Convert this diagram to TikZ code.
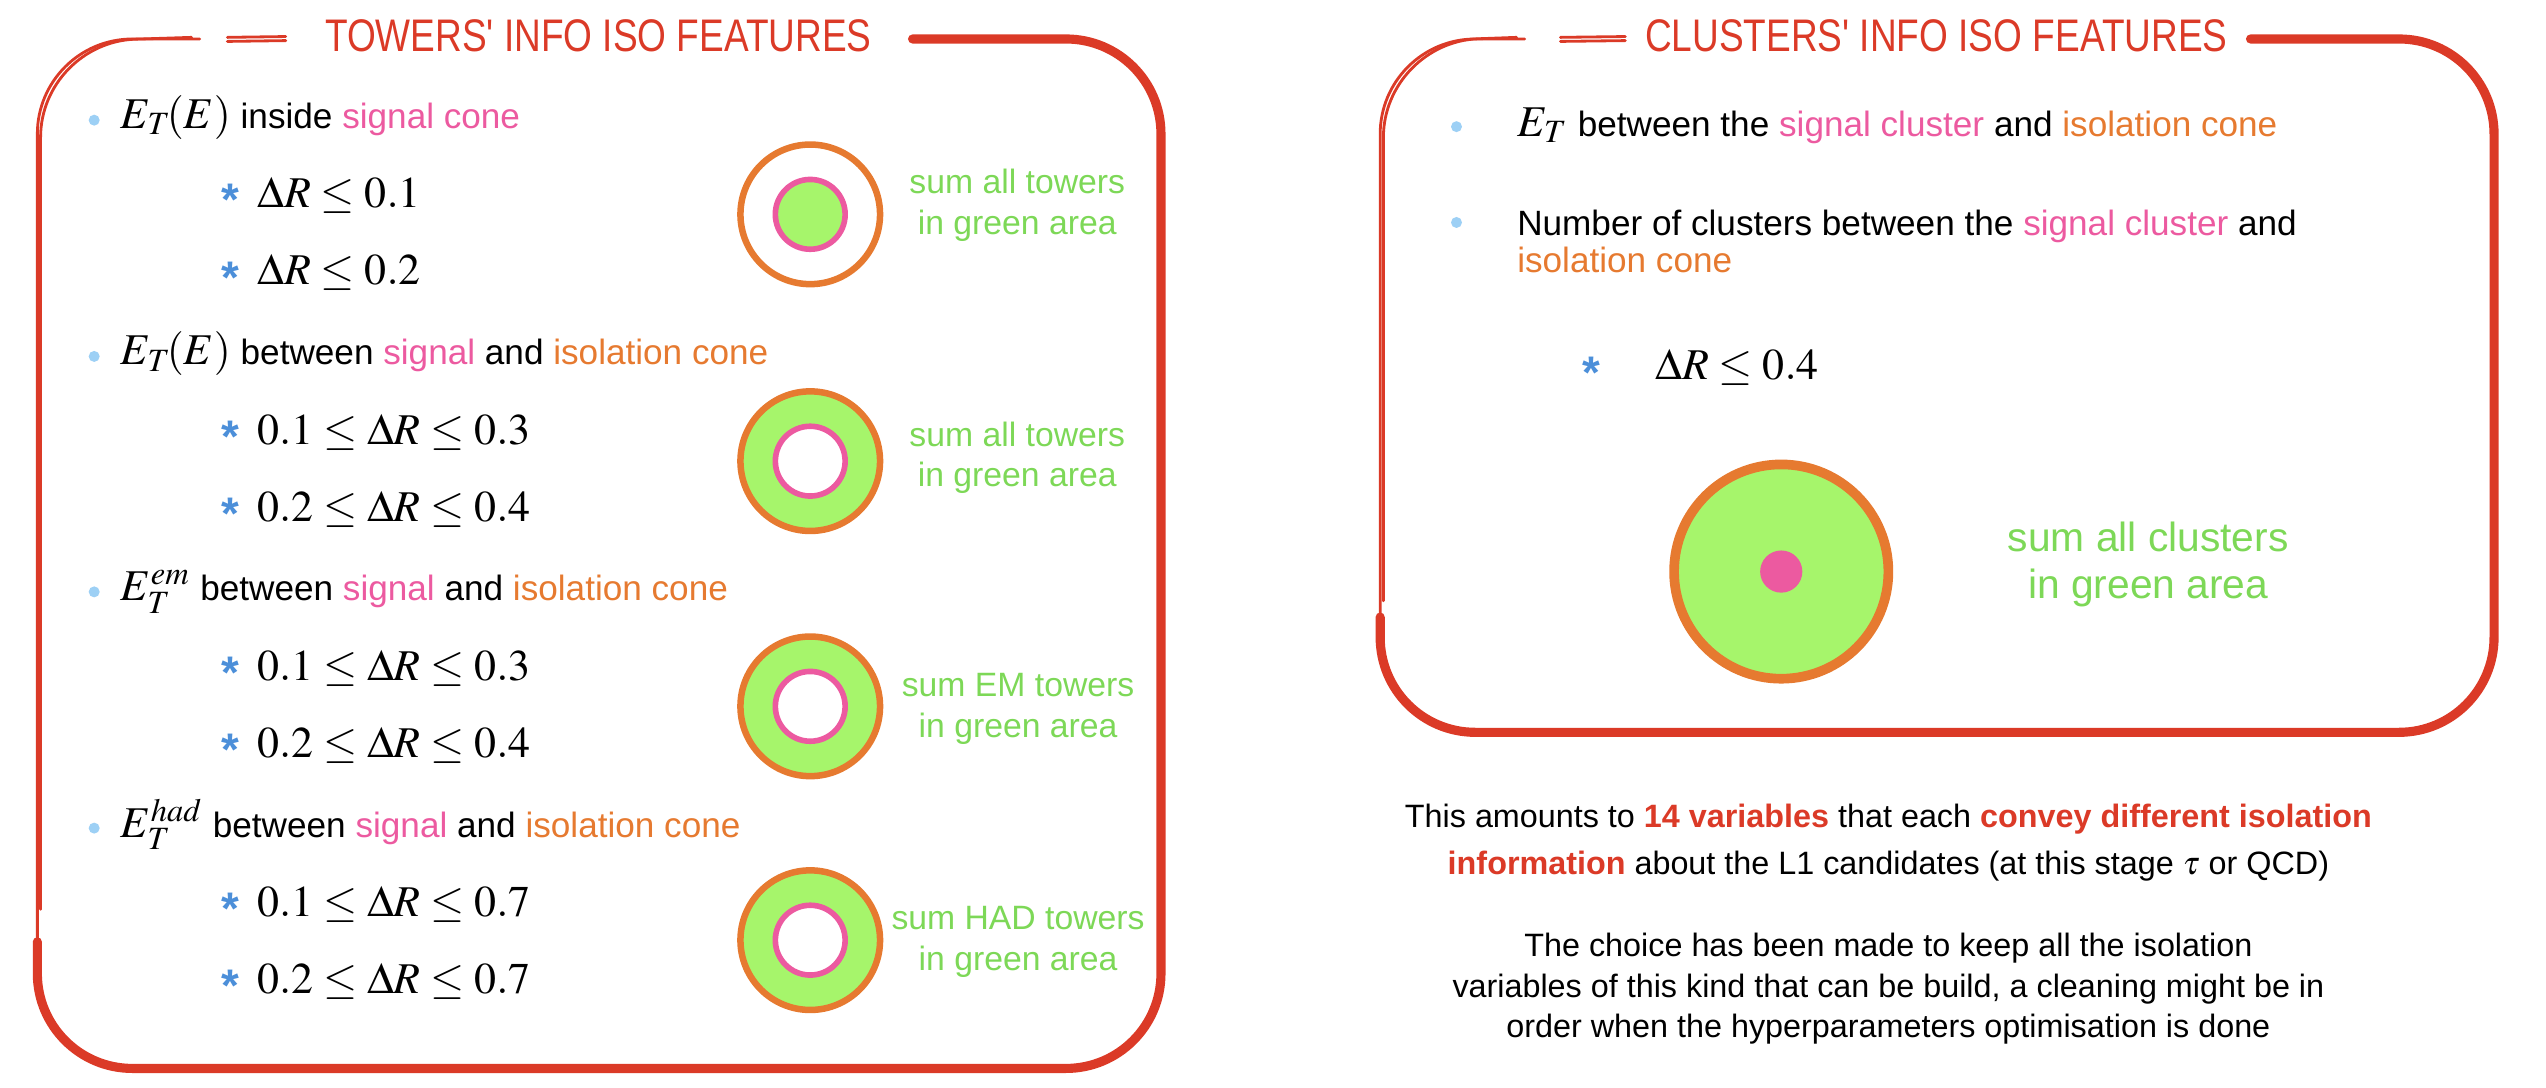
\documentclass[tikz,border=0pt]{standalone}
\usepackage{mathptmx}
\usepackage[no-math]{fontspec}
\setmainfont{Liberation Sans}
\newfontfamily\titlefont[FakeStretch=0.81]{Liberation Sans}
\usepackage{xcolor}
\definecolor{boxred}{HTML}{DB3A27}
\definecolor{sigpink}{HTML}{EC5AA0}
\definecolor{isoorange}{HTML}{E67A30}
\definecolor{areagreen}{HTML}{A6F56B}
\definecolor{textgreen}{HTML}{7DD857}
\definecolor{dotblue}{HTML}{9DD0F5}
\definecolor{starblue}{HTML}{4C8FD9}
\newcommand{\mth}[1]{{\fontsize{12.5}{15}\selectfont$#1$}}
\tikzset{boxthick/.style={draw=boxred,line width=2.6pt,rounded corners=9.5mm,line cap=round},boxthin/.style={draw=boxred,line width=.8pt,rounded corners=9.5mm,line cap=round},boxtitle/.style={text=boxred,inner sep=0pt,font=\titlefont\fontsize{13}{13}\selectfont},itemdot/.style={circle,fill=dotblue,inner sep=0pt,minimum size=1.1mm},itemtext/.style={anchor=base west,inner sep=0pt,font=\fontsize{10}{10.4}\selectfont},subtext/.style={anchor=base west,inner sep=0pt,font=\fontsize{12.5}{15}\selectfont},staritem/.style={anchor=base,inner sep=0pt,text=starblue,font=\fontsize{13}{13}\selectfont\bfseries},outerring/.style={circle,draw=isoorange,line width=1.85pt,inner sep=0pt,minimum size=13.96mm},innerring/.style={circle,draw=sigpink,line width=1.6pt,inner sep=0pt,minimum size=6.98mm},arealabel/.style={text=textgreen,align=center,inner sep=0pt,font=\fontsize{9.6}{11.5}\selectfont},note/.style={align=center,inner sep=0pt,anchor=north}}

\begin{document}
\begin{tikzpicture}[x=0.16237mm,y=-0.16237mm]
\useasboundingbox (0,0) rectangle (1568,670);
% towers box
\draw[boxthick] (562,24) -- (715,24) -- (715,658) -- (23,658) -- (23,580);
\draw[boxthin] (23,590) -- (23,24) -- (123,24);
\draw[boxthin] (25,560) -- (25,26) -- (118,23);
\draw[boxthin] (140,23) -- (176,22.5);\draw[boxthin] (140,25.5) -- (176,25);
\node[boxtitle] (towtitle) at (368.5,22) {TOWERS' INFO ISO FEATURES};
\node[itemdot] (d1) at (58,74) {};
\node[itemtext] (i1) at (74,79) {\mth{E_T\!(E)} inside \textcolor{sigpink}{signal cone}};
\node[staritem] (s11) at (141.6,133) {*};\node[subtext] (r11) at (158,128) {$\Delta R \leq 0.1$};
\node[staritem] (s12) at (141.6,180.5) {*};\node[subtext] (r12) at (158,175.5) {$\Delta R \leq 0.2$};
\node[itemdot] (d2) at (58,219.5) {};
\node[itemtext] (i2) at (74,224.5) {\mth{E_T\!(E)} between \textcolor{sigpink}{signal} and \textcolor{isoorange}{isolation cone}};
\node[staritem] (s21) at (141.6,278.5) {*};\node[subtext] (r21) at (158,273.5) {$0.1 \leq \Delta R \leq 0.3$};
\node[staritem] (s22) at (141.6,326) {*};\node[subtext] (r22) at (158,321) {$0.2 \leq \Delta R \leq 0.4$};
\node[itemdot] (d3) at (58,364.5) {};
\node[itemtext] (i3) at (74,370) {\mth{E_T^{em}} between \textcolor{sigpink}{signal} and \textcolor{isoorange}{isolation cone}};
\node[staritem] (s31) at (141.6,424) {*};\node[subtext] (r31) at (158,419) {$0.1 \leq \Delta R \leq 0.3$};
\node[staritem] (s32) at (141.6,471.5) {*};\node[subtext] (r32) at (158,466.5) {$0.2 \leq \Delta R \leq 0.4$};
\node[itemdot] (d4) at (58,510) {};
\node[itemtext] (i4) at (74,515.5) {\mth{E_T^{had}} between \textcolor{sigpink}{signal} and \textcolor{isoorange}{isolation cone}};
\node[staritem] (s41) at (141.6,569.5) {*};\node[subtext] (r41) at (158,564.5) {$0.1 \leq \Delta R \leq 0.7$};
\node[staritem] (s42) at (141.6,617) {*};\node[subtext] (r42) at (158,612) {$0.2 \leq \Delta R \leq 0.7$};
% cones
\node[outerring] (c1) at (499,132) {};\node[innerring,fill=areagreen] (p1) at (c1) {};
\node[arealabel] (l1) at (626.5,126.5) {sum all towers\\in green area};
\node[outerring,fill=areagreen] (c2) at (499,284) {};\node[innerring,fill=white] (p2) at (c2) {};
\node[arealabel] (l2) at (626.5,282) {sum all towers\\in green area};
\node[outerring,fill=areagreen] (c3) at (499,435) {};\node[innerring,fill=white] (p3) at (c3) {};
\node[arealabel] (l3) at (627,436.5) {sum EM towers\\in green area};
\node[outerring,fill=areagreen] (c4) at (499,579) {};\node[innerring,fill=white] (p4) at (c4) {};
\node[arealabel] (l4) at (627,580) {sum HAD towers\\in green area};
% clusters box
\draw[boxthick] (1386,24) -- (1536,24) -- (1536,451) -- (850,451) -- (850,380);
\draw[boxthin] (850,390) -- (850,24) -- (939,24);
\draw[boxthin] (852,370) -- (852,26) -- (934,23);
\draw[boxthin] (961,23) -- (1001,22.5);\draw[boxthin] (961,25.5) -- (1001,25);
\node[boxtitle] (clutitle) at (1192.5,22) {CLUSTERS' INFO ISO FEATURES};
\node[itemdot] (e1) at (897,78) {};
\node[itemtext] (j1) at (934,84) {\mth{E_T} between the \textcolor{sigpink}{signal cluster} and \textcolor{isoorange}{isolation cone}};
\node[itemdot] (e2) at (897,137) {};
\node[itemtext,anchor=north west,align=left] (j2) at (934,129) {Number of clusters between the \textcolor{sigpink}{signal cluster} and\\\textcolor{isoorange}{isolation cone}};
\node[staritem] (s5) at (980,239) {*};\node[subtext] (r5) at (1019,234) {$\Delta R \leq 0.4$};
\node[outerring,fill=areagreen,line width=2.75pt,minimum size=21.43mm] (c5) at (1097,352) {};
\node[circle,fill=sigpink,inner sep=0pt,minimum size=4.22mm] (p5) at (c5) {};
\node[arealabel,font=\fontsize{11.6}{13.4}\selectfont] (l5) at (1323,347.5) {sum all clusters\\in green area};
% summary
\node[note,font=\fontsize{9.2}{13.4}\selectfont] (amount) at (1163,494.5) {This amounts to \textcolor{boxred}{\bfseries 14 variables} that each \textcolor{boxred}{\bfseries convey different isolation}\\\textcolor{boxred}{\bfseries information} about the L1 candidates (at this stage $\tau$ or QCD)};
\node[note,font=\fontsize{9.2}{11.4}\selectfont] (choice) at (1163,574.5) {The choice has been made to keep all the isolation\\variables of this kind that can be build, a cleaning might be in\\order when the hyperparameters optimisation is done};
\end{tikzpicture}
\end{document}
